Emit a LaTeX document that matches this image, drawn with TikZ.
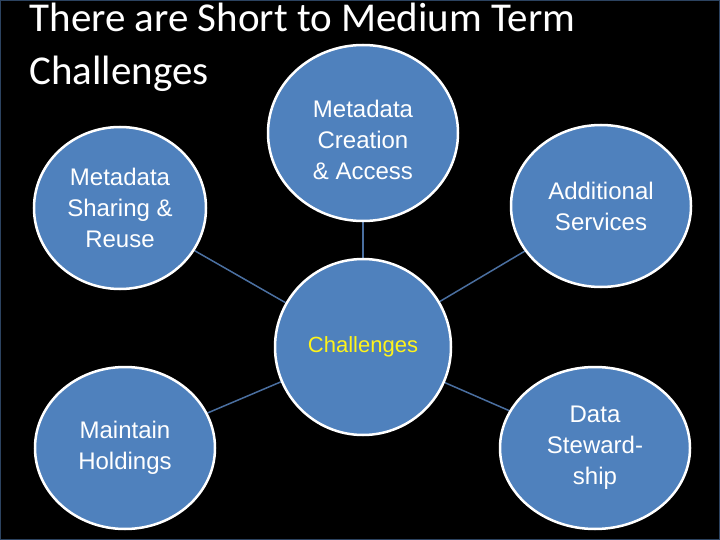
\documentclass[tikz,border=0pt]{standalone}
\usepackage{fontspec}
\setmainfont{Liberation Sans}
\newfontfamily\titlefont{Carlito}
\usetikzlibrary{shapes.geometric,backgrounds}
\definecolor{bub}{HTML}{4F81BD}
\definecolor{con}{HTML}{4A6FA0}
\begin{document}
\begin{tikzpicture}[x=1pt,y=-1pt,
  bubble/.style={ellipse,fill=bub,draw=white,line width=2.5pt,inner sep=0pt,text=white,align=center,font=\fontsize{24}{31}\selectfont},
  link/.style={draw=con,line width=1.5pt}]
\useasboundingbox (0,0) rectangle (720,540);
\node[anchor=west,text=white,font=\titlefont\fontsize{41}{53}\selectfont,align=left] (title) at (26,47) {There are Short to Medium Term\\Challenges};
\node[bubble,minimum width=176pt,minimum height=176pt] (c) at (363,347) {};
\node[text=yellow!90!white,font=\fontsize{22}{26}\selectfont] (ct) at (363,347) {Challenges};
\node[bubble,minimum width=190pt,minimum height=176pt] (t) at (363,133) {};
\node[text=white,align=center,font=\fontsize{24}{31}\selectfont] (tt) at (363,140) {Metadata\\Creation\\\& Access};
\node[bubble,minimum width=172pt,minimum height=162pt] (l) at (120,208) {Metadata\\Sharing \&\\Reuse};
\node[bubble,minimum width=180pt,minimum height=162pt] (r) at (601,206) {Additional\\Services};
\node[bubble,minimum width=180pt,minimum height=162pt] (bl) at (125,448) {Maintain\\Holdings};
\node[bubble,minimum width=190pt,minimum height=162pt] (br) at (595,448) {Data\\Steward-\\ship};
\begin{scope}[on background layer]
\fill[black] (0,0) rectangle (720,540);
\draw[color=con!60!black,line width=1pt] (0.5,0.5) rectangle (719.5,539.5);
\draw[link] (c) -- (t);
\draw[link] (c) -- (l);
\draw[link] (c) -- (r);
\draw[link] (c) -- (bl);
\draw[link] (c) -- (br);
\end{scope}
\end{tikzpicture}
\end{document}
